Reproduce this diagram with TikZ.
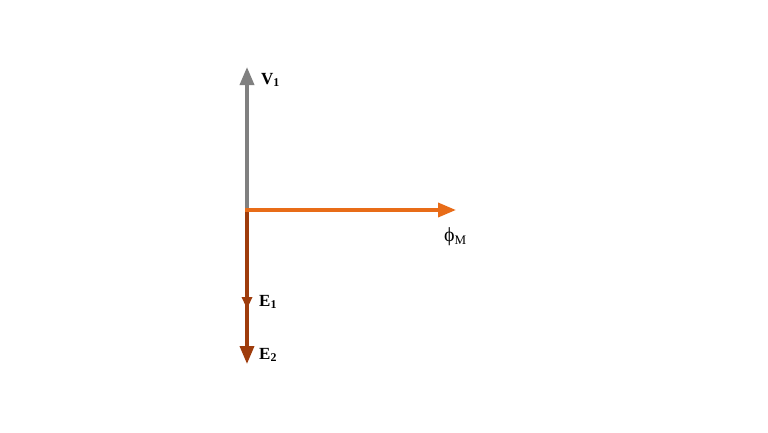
\documentclass[tikz,border=0pt]{standalone}
\usepackage{fontspec}
\setmainfont{Liberation Serif}
\usetikzlibrary{arrows.meta}
\definecolor{vgray}{RGB}{128,128,128}
\definecolor{phiorange}{RGB}{232,108,24}
\definecolor{ebrown}{RGB}{158,60,12}
\tikzset{
  vec/.style={line width=3.6pt},
  bighead/.style={-{Triangle[length=18pt,width=14pt]}},
  smallhead/.style={-{Triangle[length=12pt,width=10pt]}},
  lbl/.style={font=\bfseries\fontsize{17}{19}\selectfont, inner sep=0pt, anchor=west}
}
\begin{document}
\begin{tikzpicture}[x=1pt,y=-1pt]
\useasboundingbox (0,0) rectangle (768,432);
\coordinate (O) at (247,210);
\coordinate (V) at (247,67);
\coordinate (P) at (456,210);
\coordinate (E1) at (247,309);
\coordinate (E2) at (247,364);
\draw[vec, vgray, bighead] (O) -- (V);
\draw[vec, ebrown, bighead] (O) -- (E2);
\draw[vec, ebrown, smallhead] (O) -- (E1);
\draw[vec, phiorange, bighead, shorten <=-1.8pt] (O) -- (P);
\node[lbl] (lv) at (261,80) {V\textsubscript{1}};
\node[lbl] (le1) at (259,302) {E\textsubscript{1}};
\node[lbl] (le2) at (259,355) {E\textsubscript{2}};
\node[font=\fontsize{20}{22}\selectfont, inner sep=0pt, anchor=west] (lphi) at (444,237) {ϕ\textsubscript{\fontsize{13}{15}\selectfont M}};
\end{tikzpicture}
\end{document}
